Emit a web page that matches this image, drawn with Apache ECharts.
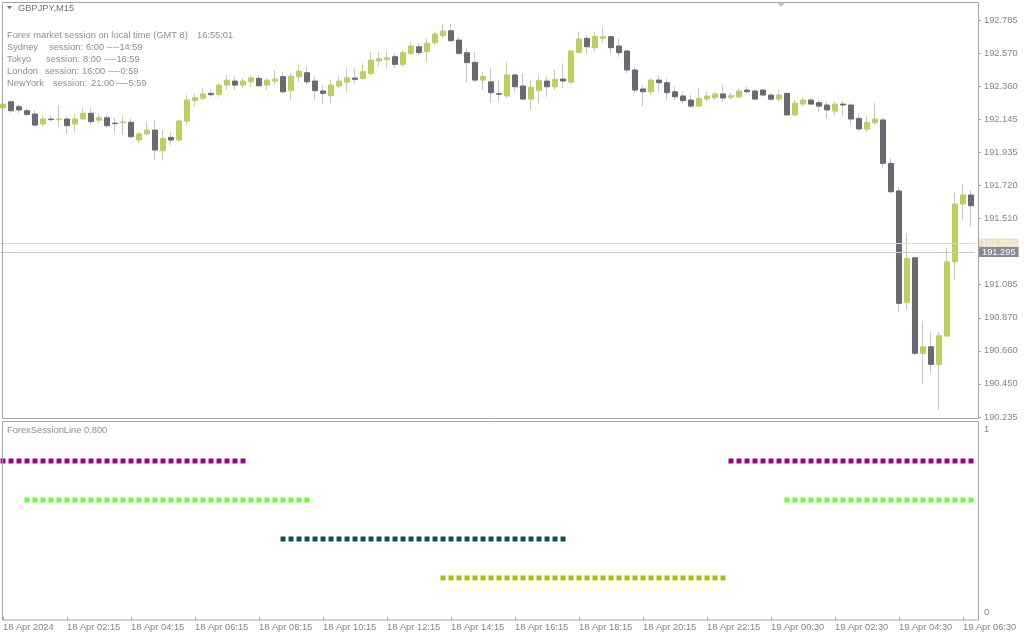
<!DOCTYPE html>
<html>
<head>
<meta charset="utf-8">
<title>GBPJPY,M15</title>
<script src="https://cdn.jsdelivr.net/npm/echarts@6/dist/echarts.min.js"></script>
<style>
  html, body { margin: 0; padding: 0; background: #fff; }
  #chart { width: 1024px; height: 640px; }
</style>
</head>
<body>
<div id="chart"></div>
<script>
// GBPJPY M15, one entry per bar
const opens = [
  192.220, 192.260, 192.228, 192.202, 192.181, 192.117, 192.149, 192.145, 192.149, 192.117,
  192.149, 192.186, 192.141, 192.157, 192.123, 192.126, 192.128, 192.014, 192.053, 192.078,
  191.945, 192.031, 192.014, 192.136, 192.267, 192.282, 192.314, 192.306, 192.367, 192.393,
  192.367, 192.388, 192.410, 192.367, 192.393, 192.421, 192.331, 192.421, 192.446, 192.393,
  192.329, 192.299, 192.361, 192.385, 192.412, 192.410, 192.442, 192.523, 192.530, 192.549,
  192.500, 192.571, 192.613, 192.581, 192.639, 192.684, 192.716, 192.656, 192.575, 192.513,
  192.399, 192.388, 192.312, 192.297, 192.432, 192.361, 192.277, 192.331, 192.393, 192.356,
  192.406, 192.385, 192.577, 192.667, 192.607, 192.667, 192.678, 192.618, 192.586, 192.464,
  192.342, 192.324, 192.399, 192.382, 192.324, 192.297, 192.271, 192.232, 192.277, 192.286,
  192.310, 192.288, 192.292, 192.335, 192.329, 192.335, 192.303, 192.277, 192.314, 192.175,
  192.245, 192.271, 192.254, 192.239, 192.200, 192.245, 192.239, 192.153, 192.085, 192.125,
  192.143, 191.864, 191.687, 190.969, 191.258, 190.644, 190.686, 190.573, 190.755, 191.232,
  191.603, 191.661
];
const closes = [
  192.245, 192.202, 192.207, 192.179, 192.110, 192.149, 192.145, 192.149, 192.106, 192.149,
  192.186, 192.132, 192.157, 192.106, 192.119, 192.130, 192.035, 192.053, 192.078, 191.950,
  192.025, 192.014, 192.136, 192.271, 192.286, 192.310, 192.305, 192.367, 192.399, 192.367,
  192.393, 192.414, 192.363, 192.399, 192.406, 192.324, 192.425, 192.457, 192.388, 192.331,
  192.314, 192.367, 192.393, 192.414, 192.404, 192.453, 192.528, 192.536, 192.543, 192.500,
  192.575, 192.618, 192.575, 192.635, 192.695, 192.714, 192.652, 192.571, 192.511, 192.399,
  192.421, 192.318, 192.308, 192.432, 192.356, 192.277, 192.353, 192.395, 192.356, 192.404,
  192.393, 192.586, 192.663, 192.613, 192.678, 192.678, 192.607, 192.575, 192.464, 192.335,
  192.324, 192.399, 192.382, 192.318, 192.292, 192.267, 192.232, 192.282, 192.297, 192.310,
  192.284, 192.299, 192.329, 192.324, 192.277, 192.303, 192.276, 192.303, 192.175, 192.250,
  192.271, 192.245, 192.232, 192.207, 192.245, 192.239, 192.149, 192.085, 192.128, 192.149,
  191.864, 191.682, 190.965, 191.254, 190.644, 190.686, 190.573, 190.757, 191.232, 191.603,
  191.661, 191.592
];
const lows = [
  192.194, 192.189, 192.186, 192.164, 192.100, 192.100, 192.132, 192.100, 192.053, 192.067,
  192.143, 192.110, 192.121, 192.089, 192.057, 192.046, 192.025, 191.993, 192.046, 191.886,
  191.886, 191.982, 192.003, 192.110, 192.228, 192.271, 192.292, 192.292, 192.335, 192.335,
  192.348, 192.353, 192.356, 192.335, 192.367, 192.314, 192.271, 192.388, 192.367, 192.271,
  192.250, 192.250, 192.346, 192.324, 192.378, 192.399, 192.432, 192.485, 192.474, 192.474,
  192.485, 192.560, 192.560, 192.517, 192.624, 192.669, 192.645, 192.560, 192.388, 192.388,
  192.335, 192.252, 192.260, 192.282, 192.324, 192.271, 192.211, 192.250, 192.292, 192.335,
  192.346, 192.378, 192.573, 192.571, 192.581, 192.637, 192.571, 192.549, 192.442, 192.314,
  192.232, 192.303, 192.324, 192.271, 192.271, 192.250, 192.219, 192.224, 192.260, 192.271,
  192.260, 192.270, 192.282, 192.314, 192.271, 192.292, 192.271, 192.260, 192.168, 192.168,
  192.228, 192.239, 192.196, 192.153, 192.175, 192.168, 192.110, 192.078, 192.067, 192.110,
  191.839, 191.672, 190.911, 190.922, 190.633, 190.447, 190.516, 190.280, 190.751, 191.119,
  191.500, 191.457
];
const highs = [
  192.271, 192.267, 192.239, 192.219, 192.207, 192.175, 192.175, 192.239, 192.164, 192.186,
  192.219, 192.220, 192.186, 192.175, 192.155, 192.175, 192.153, 192.067, 192.132, 192.143,
  192.078, 192.067, 192.143, 192.303, 192.314, 192.346, 192.340, 192.378, 192.432, 192.421,
  192.412, 192.432, 192.432, 192.410, 192.464, 192.453, 192.444, 192.496, 192.485, 192.421,
  192.367, 192.399, 192.432, 192.474, 192.474, 192.507, 192.581, 192.581, 192.581, 192.571,
  192.592, 192.645, 192.635, 192.667, 192.710, 192.759, 192.759, 192.678, 192.605, 192.581,
  192.453, 192.477, 192.399, 192.517, 192.442, 192.442, 192.399, 192.432, 192.421, 192.464,
  192.507, 192.592, 192.708, 192.688, 192.710, 192.740, 192.688, 192.667, 192.592, 192.485,
  192.367, 192.410, 192.432, 192.410, 192.356, 192.324, 192.303, 192.346, 192.324, 192.324,
  192.367, 192.320, 192.346, 192.356, 192.340, 192.346, 192.314, 192.335, 192.318, 192.271,
  192.288, 192.288, 192.271, 192.260, 192.260, 192.267, 192.250, 192.186, 192.168, 192.252,
  192.155, 191.897, 191.714, 191.417, 191.264, 190.847, 190.783, 190.783, 191.320, 191.676,
  191.732, 191.693
];

// one time label every 8 bars
const timeLabels = [
  '18 Apr 2024', '18 Apr 02:15', '18 Apr 04:15', '18 Apr 06:15', '18 Apr 08:15',
  '18 Apr 10:15', '18 Apr 12:15', '18 Apr 14:15', '18 Apr 16:15', '18 Apr 18:15',
  '18 Apr 20:15', '18 Apr 22:15', '19 Apr 00:30', '19 Apr 02:30', '19 Apr 04:30',
  '19 Apr 06:30'
];
const priceTicks = [
  '190.235', '190.450', '190.660', '190.870', '191.085', '191.295', '191.510',
  '191.720', '191.935', '192.145', '192.360', '192.570', '192.785'
];
const askPrice = 191.350;
const bidPrice = 191.295;

// session indicator
const sessionNames = ['Sydney', 'Tokyo', 'London', 'NewYork'];
const sessionOpen = ['6:00', '8:00', '16:00', '21:00'];
const sessionClose = ['14:59', '16:59', '0:59', '5:59'];
const sessionLevels = [0.8, 0.6, 0.4, 0.2];
const sessionBars = [[[0, 30], [91, 121]], [[3, 38], [98, 121]], [[35, 70]], [[55, 90]]];
const sessionColors = ['#a0008c', '#66ff33', '#0b5050', '#99cc00'];

const bullColor = '#bdd05e';
const bearColor = '#6d6872';
const wickColor = '#c6c6c6';
const frameColor = '#a6a6a6';
const textColor = '#858585';
const font = 'Liberation Sans';
const fs = 9.3;

const bars = opens.map((o, i) => i);
const wickData = opens.map((o, i) => [o, closes[i], lows[i], highs[i]]);
const bodyData = opens.map((o, i) => [o, closes[i], Math.min(o, closes[i]), Math.max(o, closes[i])]);

const sessionSeries = sessionLevels.map((lvl, s) => ({
  name: sessionNames[s],
  type: 'line',
  xAxisIndex: 1,
  yAxisIndex: 2,
  data: bars.map(i => (sessionBars[s].some(r => i >= r[0] && i <= r[1]) ? lvl : '-')),
  symbol: 'rect',
  symbolSize: 5,
  showAllSymbol: true,
  connectNulls: false,
  lineStyle: { opacity: 0 },
  itemStyle: { color: sessionColors[s] },
  silent: true
}));

function txt(x, y, text, color) {
  return {
    type: 'text', x: x, y: y, silent: true, z: 20,
    style: { text: text, fill: color || '#8e8e8e', fontSize: fs, fontFamily: font, verticalAlign: 'middle' }
  };
}

// x of "session:", start time, "----end" on each info line
const infoX = [[49, 86, 107], [46, 83, 104], [45, 82, 108], [53, 91, 116]];
const infoText = [txt(7, 35, 'Forex market session on local time (GMT 8)'), txt(197, 35, '16:55:01')];
sessionNames.forEach((n, s) => {
  const y = 47.5 + s * 12;
  infoText.push(txt(7, y, n));
  infoText.push(txt(infoX[s][0], y, 'session:'));
  infoText.push(txt(infoX[s][1], y, sessionOpen[s]));
  infoText.push(txt(infoX[s][2], y, '----' + sessionClose[s]));
});

const myChart = echarts.init(document.getElementById('chart'), null, { renderer: 'canvas' });

const option = {
  animation: false,
  backgroundColor: '#ffffff',
  textStyle: { fontFamily: font },
  grid: [
    { left: -1, top: 20, width: 976, height: 397, outerBoundsMode: 'none' },
    { left: -1, top: 422, width: 976, height: 195, outerBoundsMode: 'none' }
  ],
  xAxis: [
    { gridIndex: 0, type: 'category', data: bars, boundaryGap: true, show: false },
    {
      gridIndex: 1, type: 'category', data: bars, boundaryGap: true, offset: 3,
      axisLine: { show: false },
      axisTick: { show: true, alignWithLabel: true, interval: 7, length: 3, lineStyle: { color: frameColor } },
      axisLabel: {
        interval: 7, align: 'left', margin: 3, color: textColor, fontSize: fs, fontFamily: font,
        formatter: (v, idx) => timeLabels[idx / 8] || ''
      },
      splitLine: { show: false }
    }
  ],
  yAxis: [
    { gridIndex: 0, type: 'value', min: 190.235, max: 192.785, show: false },
    {
      gridIndex: 0, type: 'value', min: 0, max: 12, interval: 1, position: 'right', offset: 3,
      axisLine: { show: false },
      axisTick: { show: true, length: 3, lineStyle: { color: frameColor } },
      splitLine: { show: false },
      axisLabel: {
        margin: 6, color: textColor, fontSize: fs, fontFamily: font,
        formatter: v => priceTicks[Math.round(v)]
      }
    },
    {
      gridIndex: 1, type: 'value', min: 0, max: 1, interval: 1, position: 'right', offset: 3,
      axisLine: { show: false },
      axisTick: { show: false },
      splitLine: { show: false },
      axisLabel: {
        margin: 6, color: textColor, fontSize: fs, fontFamily: font,
        formatter: v => (v === 1 ? '{t|1}' : '{b|0}'),
        rich: {
          t: { padding: [14, 0, 0, 0], color: textColor, fontSize: fs, fontFamily: font },
          b: { padding: [0, 0, 10, 0], color: textColor, fontSize: fs, fontFamily: font }
        }
      }
    }
  ],
  series: [
    {
      name: 'wick',
      type: 'candlestick',
      xAxisIndex: 0,
      yAxisIndex: 0,
      data: wickData,
      barWidth: 1,
      z: 2,
      silent: true,
      itemStyle: { color: wickColor, color0: wickColor, borderColor: wickColor, borderColor0: wickColor, borderWidth: 1 },
      markLine: {
        silent: true,
        symbol: ['none', 'none'],
        precision: 3,
        animation: false,
        data: [
          {
            yAxis: askPrice,
            lineStyle: { color: '#e2d9bd', width: 1, type: 'solid' },
            label: {
              position: 'end', distance: 4, formatter: p => Number(p.value).toFixed(3),
              color: '#fbf7ea', backgroundColor: '#ece3c6', padding: [1, 3, 0, 3],
              fontSize: fs, fontFamily: font
            }
          },
          {
            yAxis: bidPrice,
            lineStyle: { color: '#cacaca', width: 1, type: 'solid' },
            label: {
              position: 'end', distance: 4, formatter: p => Number(p.value).toFixed(3),
              color: '#ffffff', backgroundColor: '#8b8892', padding: [1, 3, 0, 3],
              fontSize: fs, fontFamily: font
            }
          }
        ]
      }
    },
    {
      name: 'GBPJPY',
      type: 'candlestick',
      xAxisIndex: 0,
      yAxisIndex: 0,
      data: bodyData,
      barWidth: 6,
      z: 3,
      silent: true,
      itemStyle: { color: bullColor, color0: bearColor, borderColor: bullColor, borderColor0: bearColor, borderWidth: 1 }
    }
  ].concat(sessionSeries),
  graphic: [
    {
      type: 'rect', silent: true, z: 10,
      shape: { x: 2.5, y: 2.5, width: 976, height: 416 },
      style: { fill: 'none', stroke: frameColor, lineWidth: 1 }
    },
    {
      type: 'rect', silent: true, z: 10,
      shape: { x: 2.5, y: 421.5, width: 976, height: 198.5 },
      style: { fill: 'none', stroke: frameColor, lineWidth: 1 }
    },
    {
      type: 'polygon', silent: true, z: 20,
      shape: { points: [[7, 6], [12, 6], [9.5, 9.5]] },
      style: { fill: '#777777' }
    },
    {
      type: 'polygon', silent: true, z: 20,
      shape: { points: [[777, 3], [785, 3], [781, 7]] },
      style: { fill: '#c8c8c8' }
    },
    txt(18, 8.5, 'GBPJPY,M15', '#707070'),
    txt(7, 430, 'ForexSessionLine 0.800')
  ].concat(infoText)
};

myChart.setOption(option);
window.addEventListener('resize', myChart.resize);
</script>
</body>
</html>
